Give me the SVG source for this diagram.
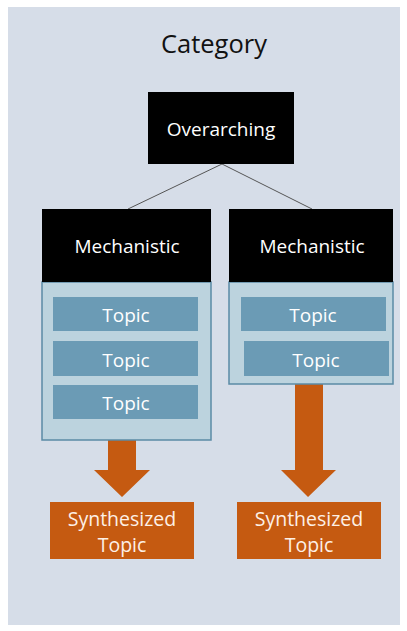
<svg xmlns="http://www.w3.org/2000/svg" width="407" height="631" viewBox="0 0 407 631">
<style>
text{font-family:"Open Sans","Liberation Sans",sans-serif;text-anchor:middle}
.blk{fill:#000000}
.panel{fill:#bcd3de;stroke:#5b8ba5;stroke-width:1.5}
.topic{fill:#6b9bb5}
.org{fill:#c55a11}
.tt{font-size:19px;fill:#ffffff}
.ot{font-size:19.5px;fill:#fdf0e6}
</style>
<rect x="0" y="0" width="407" height="631" fill="#ffffff"/>
<rect x="8" y="7" width="392" height="618" fill="#d6dde8"/>
<text x="214" y="53" font-size="25.5" fill="#111111">Category</text>
<g id="connectors">
<line x1="222" y1="164" x2="128" y2="209" stroke="#555555" stroke-width="1"/>
<line x1="222" y1="164" x2="312" y2="209" stroke="#555555" stroke-width="1"/>
<path class="org" d="M108,440 H136 V470 H150 L122,497 L94,470 H108 Z"/>
<path class="org" d="M295,384 H323 V470 H336 L308,497 L281,470 H295 Z"/>
</g>
<g id="overarching">
<rect class="blk" x="148" y="92" width="146" height="72"/>
<text class="tt" x="221" y="136">Overarching</text>
</g>
<g id="mech-left">
<rect class="panel" x="42" y="282" width="169" height="158"/>
<rect class="blk" x="42" y="209" width="169" height="73"/>
<text class="tt" x="127" y="253">Mechanistic</text>
</g>
<g id="mech-right">
<rect class="panel" x="229" y="282" width="164" height="102"/>
<rect class="blk" x="229" y="209" width="164" height="73"/>
<text class="tt" x="312" y="253">Mechanistic</text>
</g>
<g id="topic-l1"><rect class="topic" x="53" y="297" width="145" height="34"/><text class="tt" x="126" y="322">Topic</text></g>
<g id="topic-l2"><rect class="topic" x="53" y="341" width="145" height="35"/><text class="tt" x="126" y="367">Topic</text></g>
<g id="topic-l3"><rect class="topic" x="53" y="385" width="145" height="34"/><text class="tt" x="126" y="410">Topic</text></g>
<g id="topic-r1"><rect class="topic" x="241" y="297" width="145" height="34"/><text class="tt" x="313" y="322">Topic</text></g>
<g id="topic-r2"><rect class="topic" x="244" y="341" width="145" height="35"/><text class="tt" x="316" y="367">Topic</text></g>
<g id="synth-left">
<rect class="org" x="50" y="502" width="144" height="57"/>
<text class="ot" x="122" y="526">Synthesized</text>
<text class="ot" x="122" y="552">Topic</text>
</g>
<g id="synth-right">
<rect class="org" x="237" y="502" width="144" height="57"/>
<text class="ot" x="309" y="526">Synthesized</text>
<text class="ot" x="309" y="552">Topic</text>
</g>
</svg>
